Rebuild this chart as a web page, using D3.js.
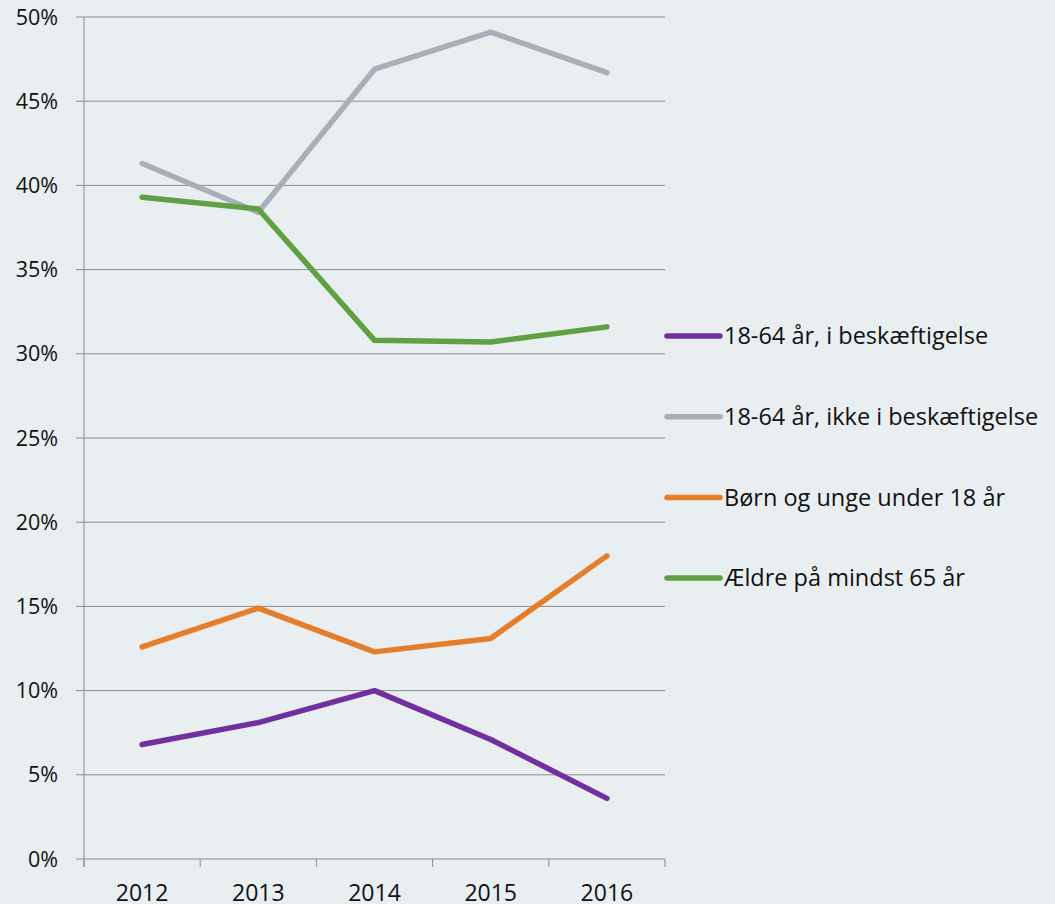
<!DOCTYPE html>
<html>
<head>
<meta charset="utf-8">
<script src="https://cdn.jsdelivr.net/npm/d3@7"></script>
<style>
  html, body { margin: 0; padding: 0; background: #e9eef1; }
  svg { display: block; font-family: "Open Sans", sans-serif; }
</style>
</head>
<body>
<svg width="1055" height="904"></svg>
<script>
// Data
const years = ['2012', '2013', '2014', '2015', '2016']
const employed = [6.8, 8.1, 10.0, 7.1, 3.6]
const notEmployed = [41.3, 38.4, 46.9, 49.1, 46.7]
const children = [12.6, 14.9, 12.3, 13.1, 18.0]
const elderly = [39.3, 38.6, 30.8, 30.7, 31.6]
const yTicks = [0, 5, 10, 15, 20, 25, 30, 35, 40, 45, 50]

const series = [
    { name: '18-64 år, i beskæftigelse', values: employed, color: '#7030a0' },
    { name: '18-64 år, ikke i beskæftigelse', values: notEmployed, color: '#a9afb9' },
    { name: 'Børn og unge under 18 år', values: children, color: '#e47e2b' },
    { name: 'Ældre på mindst 65 år', values: elderly, color: '#5fa142' }
]

// Set up
const svg = d3.select('svg')
const plotLeft = 84, plotRight = 665, plotTop = 17, plotBottom = 859

const x = d3.scaleBand().domain(years).range([plotLeft, plotRight])
const y = d3.scaleLinear().domain([0, 50]).range([plotBottom, plotTop])

// gridlines
svg.append('g')
    .selectAll('line')
    .data(yTicks)
    .join('line')
    .attr('x1', plotLeft - 8)
    .attr('x2', plotRight)
    .attr('y1', d => y(d))
    .attr('y2', d => y(d))
    .attr('stroke', '#8c8c8c')
    .attr('stroke-width', 1)

// y axis labels
svg.append('g')
    .selectAll('text')
    .data(yTicks)
    .join('text')
    .attr('x', plotLeft - 26)
    .attr('y', d => y(d))
    .attr('dy', '0.35em')
    .attr('text-anchor', 'end')
    .attr('font-size', 21.5)
    .attr('fill', '#111')
    .text(d => d + '%')

// axis lines
svg.append('line')
    .attr('x1', plotLeft).attr('x2', plotLeft)
    .attr('y1', plotTop).attr('y2', plotBottom + 8)
    .attr('stroke', '#8c8c8c')

svg.append('g')
    .selectAll('line')
    .data(years.concat(['end']))
    .join('line')
    .attr('x1', (d, i) => plotLeft + i * x.bandwidth())
    .attr('x2', (d, i) => plotLeft + i * x.bandwidth())
    .attr('y1', plotBottom)
    .attr('y2', plotBottom + 8)
    .attr('stroke', '#8c8c8c')

// x labels
svg.append('g')
    .selectAll('text')
    .data(years)
    .join('text')
    .attr('x', d => x(d) + x.bandwidth() / 2)
    .attr('y', plotBottom + 42)
    .attr('text-anchor', 'middle')
    .attr('font-size', 23)
    .attr('fill', '#111')
    .text(d => d)

// lines
const line = d3.line()
    .x((d, i) => x(years[i]) + x.bandwidth() / 2)
    .y(d => y(d))

svg.append('g')
    .selectAll('path')
    .data(series)
    .join('path')
    .attr('d', d => line(d.values))
    .attr('fill', 'none')
    .attr('stroke', d => d.color)
    .attr('stroke-width', 5.5)
    .attr('stroke-linecap', 'round')
    .attr('stroke-linejoin', 'round')

// legend
const legend = svg.append('g')
    .selectAll('g')
    .data(series)
    .join('g')
    .attr('transform', (d, i) => `translate(667, ${336 + i * 80.7})`)

legend.append('line')
    .attr('x1', 0).attr('x2', 53)
    .attr('stroke', d => d.color)
    .attr('stroke-width', 5.5)
    .attr('stroke-linecap', 'round')

legend.append('text')
    .attr('x', 57)
    .attr('dy', '0.35em')
    .attr('font-size', 23.5)
    .attr('fill', '#111')
    .text(d => d.name)
</script>
</body>
</html>
